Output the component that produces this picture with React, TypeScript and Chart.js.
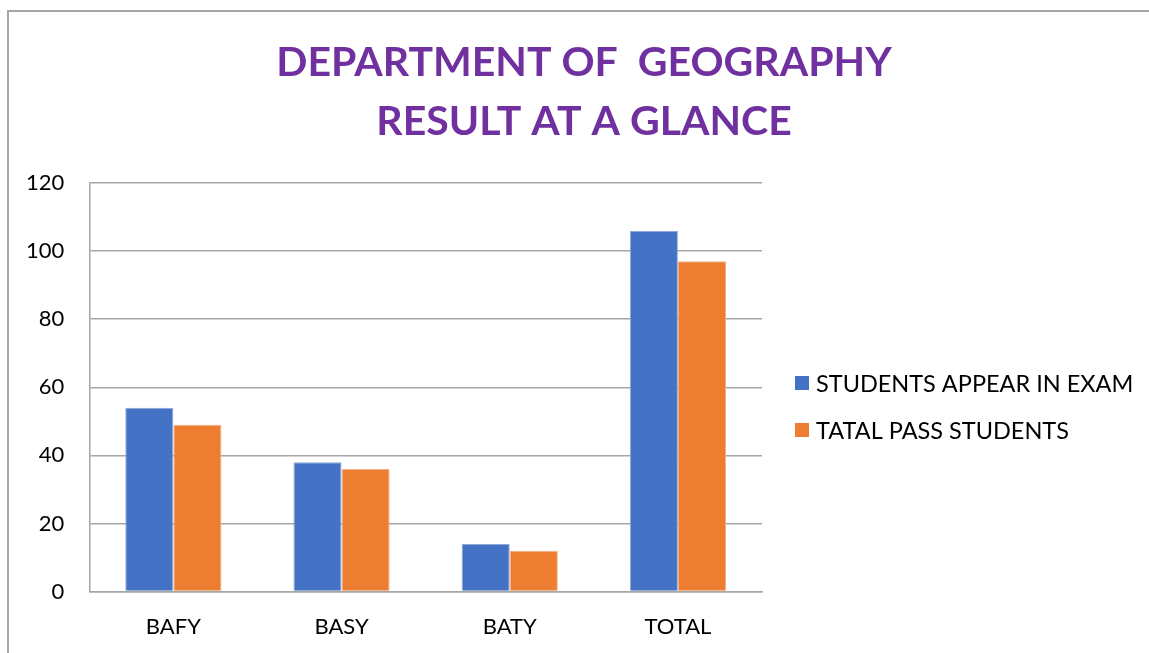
import React, { useEffect, useRef } from "react";
import { Chart, registerables } from "chart.js";

Chart.register(...registerables);

const categories = ["BAFY", "BASY", "BATY", "TOTAL"];
const appeared = [54, 38, 14, 106];
const passed = [49, 36, 12, 97];
const seriesNames = ["STUDENTS APPEAR IN EXAM", "TATAL PASS STUDENTS"];
const titleLines = ["DEPARTMENT OF  GEOGRAPHY", "RESULT AT A GLANCE"];

const FONT = "Lato, 'Open Sans', sans-serif";

const decorations = {
  id: "decorations",
  afterDraw(chart: any) {
    const ctx = chart.ctx;
    ctx.save();
    // title
    ctx.font = `bold 41px ${FONT}`;
    ctx.fillStyle = "#7030A0";
    ctx.textAlign = "center";
    ctx.textBaseline = "middle";
    const ty = [63, 122];
    titleLines.forEach((t, i) => ctx.fillText(t, 584, ty[i]));
    // legend
    const items = chart.data.datasets;
    const ys = [383, 430];
    ctx.font = `23.5px ${FONT}`;
    ctx.textAlign = "left";
    items.forEach((ds: any, i: number) => {
      ctx.fillStyle = ds.backgroundColor;
      ctx.fillRect(795, ys[i] - 7, 14, 14);
      ctx.fillStyle = "#000";
      ctx.fillText(ds.label, 816, ys[i] + 1);
    });
    ctx.restore();
  },
};

export default function App() {
  const ref = useRef<HTMLCanvasElement | null>(null);
  useEffect(() => {
    if (!ref.current) return;
    const chart = new Chart(ref.current, {
      type: "bar",
      data: {
        labels: categories,
        datasets: [
          { label: seriesNames[0], data: appeared, backgroundColor: "#4472C4", borderColor: "#8FA9DC", borderWidth: 1 },
          { label: seriesNames[1], data: passed, backgroundColor: "#ED7D31", borderColor: "#F4B183", borderWidth: 1 },
        ],
      },
      options: {
        animation: false,
        responsive: false,
        maintainAspectRatio: false,
        layout: { padding: { left: 1, right: 387, top: 183, bottom: -1 } },
        datasets: { bar: { categoryPercentage: 0.572, barPercentage: 1 } },
        plugins: {
          legend: { display: false },
          tooltip: { enabled: false },
          title: { display: false },
        },
        scales: {
          x: {
            grid: { display: false },
            border: { display: true, color: "#a6a6a6", width: 1.5 },
            ticks: { color: "#000", font: { family: FONT, size: 22 }, padding: 14 },
          },
          y: {
            min: 0,
            max: 120,
            ticks: { stepSize: 20, color: "#000", font: { family: FONT, size: 22 }, padding: 25 },
            grid: { color: "#a6a6a6", lineWidth: 1.5, drawTicks: false },
            border: { display: true, color: "#a6a6a6", width: 1.5 },
          },
        },
      },
      plugins: [decorations],
    });
    return () => chart.destroy();
  }, []);
  return (
    <div style={{ position: "fixed", left: 0, top: 0, width: 1149, height: 653, background: "#fff", overflow: "hidden" }}>
      <div
        style={{
          position: "absolute",
          left: 7,
          top: 10,
          width: 1200,
          height: 700,
          border: "2px solid #a6a6a6",
          boxSizing: "border-box",
        }}
      />
      <canvas ref={ref} width={1149} height={653} style={{ position: "absolute", left: 0, top: 0 }} />
    </div>
  );
}
